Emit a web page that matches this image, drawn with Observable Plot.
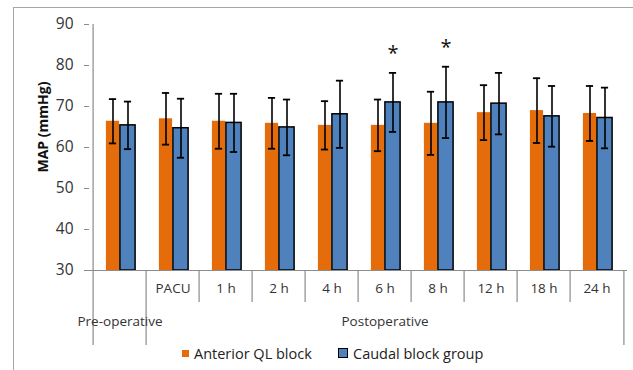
<!DOCTYPE html>
<html>
<head>
<meta charset="utf-8">
<script src="https://cdn.jsdelivr.net/npm/d3@7"></script>
<script src="https://cdn.jsdelivr.net/npm/@observablehq/plot@0.6"></script>
<style>
  html, body { margin: 0; padding: 0; background: #fff; }
  #wrap { position: relative; width: 633px; height: 370px; overflow: hidden; font-family: "Open Sans", sans-serif; }
  #border { position: absolute; left: 13px; top: 7px; width: 700px; height: 450px; border: 1px solid #a6a6a6; box-sizing: border-box; }
  #chart { position: absolute; left: 0; top: 0; }
  #legend { position: absolute; left: 0; top: 343px; width: 633px; height: 20px; display: flex; align-items: center; font-size: 14.5px; color: #222; }
  .sw { display: inline-block; width: 7px; height: 7px; margin-right: 5px; }
  .item { display: flex; align-items: center; position: absolute; }
</style>
</head>
<body>
<div id="wrap">
  <div id="border"></div>
  <div id="chart"></div>
  <div id="legend"></div>
</div>
<script>
// ---- data ----
const categories = ["Pre-operative", "PACU", "1 h", "2 h", "4 h", "6 h", "8 h", "12 h", "18 h", "24 h"];
const tickLabels = ["", "PACU", "1 h", "2 h", "4 h", "6 h", "8 h", "12 h", "18 h", "24 h"];
const seriesNames = ["Anterior QL block", "Caudal block group"];
const anteriorMean = [66.4, 67.0, 66.4, 65.9, 65.4, 65.4, 65.9, 68.5, 69.0, 68.3];
const anteriorSD   = [5.4, 6.3, 6.7, 6.2, 5.9, 6.3, 7.7, 6.7, 7.9, 6.7];
const caudalMean   = [65.4, 64.7, 66.0, 64.9, 68.1, 71.0, 71.0, 70.7, 67.6, 67.2];
const caudalSD     = [5.8, 7.2, 7.1, 6.8, 8.2, 7.2, 8.7, 7.5, 7.4, 7.4];
const significant  = ["6 h", "8 h"];
const yTicks = [30, 40, 50, 60, 70, 80, 90];
const groups = [
  {label: "Pre-operative", center: "Pre-operative"},
  {label: "Postoperative", center: "6 h"}
];
const colors = ["#E46C0A", "#4F81BD"];

// ---- layout ----
const W = 633, H = 345;
const mL = 89, mR = 6, mT = 24, mB = 75;
const bw = (W - mL - mR) / categories.length;
const frameH = H - mT - mB;

const rowsA = categories.map((c, i) => ({cat: c, mean: anteriorMean[i], sd: anteriorSD[i]}));
const rowsC = categories.map((c, i) => ({cat: c, mean: caudalMean[i], sd: caudalSD[i]}));
const base = yTicks[0];

const gray = "#8c8c8c";
const txt = "#333";

const plot = Plot.plot({
  width: W, height: H,
  marginLeft: mL, marginRight: mR, marginTop: mT, marginBottom: mB,
  style: {fontFamily: "Open Sans, sans-serif", background: "transparent", overflow: "visible"},
  x: {type: "band", domain: categories, padding: 0, axis: null},
  y: {domain: [yTicks[0], yTicks[yTicks.length - 1]], axis: null},
  marks: [
    // bars
    Plot.barY(rowsA, {x: "cat", y1: () => base, y2: "mean", fill: colors[0], insetLeft: bw / 2 - 14, insetRight: bw / 2}),
    Plot.barY(rowsC, {x: "cat", y1: () => base, y2: "mean", fill: colors[1], stroke: "#000", strokeWidth: 1.5, insetLeft: bw / 2, insetRight: bw / 2 - 16}),
    // error bars
    Plot.ruleX(rowsA, {x: "cat", y1: d => d.mean - d.sd, y2: d => d.mean + d.sd, dx: -7, stroke: "#000", strokeWidth: 1.6}),
    Plot.tickY(rowsA, {x: "cat", y: d => d.mean + d.sd, dx: -7, inset: bw / 2 - 4, stroke: "#000", strokeWidth: 1.8}),
    Plot.tickY(rowsA, {x: "cat", y: d => d.mean - d.sd, dx: -7, inset: bw / 2 - 4, stroke: "#000", strokeWidth: 1.8}),
    Plot.ruleX(rowsC, {x: "cat", y1: d => d.mean - d.sd, y2: d => d.mean + d.sd, dx: 8, stroke: "#000", strokeWidth: 1.6}),
    Plot.tickY(rowsC, {x: "cat", y: d => d.mean + d.sd, dx: 8, inset: bw / 2 - 4, stroke: "#000", strokeWidth: 1.8}),
    Plot.tickY(rowsC, {x: "cat", y: d => d.mean - d.sd, dx: 8, inset: bw / 2 - 4, stroke: "#000", strokeWidth: 1.8}),
    // significance stars
    Plot.text(rowsC.filter(d => significant.includes(d.cat)), {x: "cat", y: d => d.mean + d.sd, dx: 8, dy: -19, text: () => "*", fontSize: 20, fill: "#111"}),
    // x axis line
    Plot.ruleY([base], {stroke: gray, strokeWidth: 1.2}),
    // y axis line (extends down through category area)
    Plot.ruleX([categories[0]], {x: d => d, dx: -bw / 2, stroke: gray, strokeWidth: 1.2, insetBottom: -75}),
    // short category separators
    Plot.ruleX(categories.slice(2), {x: d => d, dx: -bw / 2, stroke: gray, strokeWidth: 1.2, insetTop: frameH, insetBottom: -32}),
    // long group separators
    Plot.ruleX([categories[1]], {x: d => d, dx: -bw / 2, stroke: gray, strokeWidth: 1.2, insetTop: frameH, insetBottom: -75}),
    Plot.ruleX([categories[categories.length - 1]], {x: d => d, dx: bw / 2, stroke: gray, strokeWidth: 1.2, insetTop: frameH, insetBottom: -75}),
    // y axis
    Plot.axisY({ticks: yTicks, tickSize: 5, tickPadding: 11, stroke: gray, fill: txt, fontSize: 15.5, tickFormat: d => d, label: null}),
    // y title
    Plot.text(["MAP (mmHg)"], {frameAnchor: "left", dx: -46, dy: 25, rotate: -90, text: d => d, fontSize: 14, fontWeight: "bold", fill: "#111"}),
    // category tick labels
    Plot.text(categories, {x: d => d, text: (d, i) => tickLabels[i], frameAnchor: "bottom", dy: 22, fontSize: 13.5, fill: txt}),
    // group labels
    Plot.text(groups, {x: "center", text: "label", frameAnchor: "bottom", dy: 55, fontSize: 13.5, fill: txt})
  ]
});
document.getElementById("chart").appendChild(plot);

// legend
const legend = document.getElementById("legend");
const positions = [182, 338];
seriesNames.forEach((name, i) => {
  const it = document.createElement("div");
  it.className = "item";
  it.style.left = positions[i] + "px";
  const sw = document.createElement("span");
  sw.className = "sw";
  sw.style.background = colors[i];
  if (i === 1) { sw.style.border = "1.5px solid #000"; sw.style.width = "8px"; sw.style.height = "8px"; }
  it.appendChild(sw);
  const t = document.createElement("span");
  t.textContent = name;
  it.appendChild(t);
  legend.appendChild(it);
});
</script>
</body>
</html>
